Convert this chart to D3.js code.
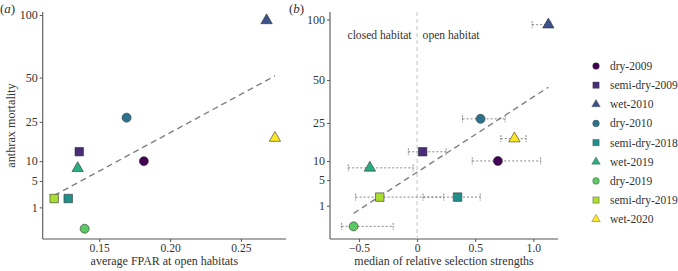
<!DOCTYPE html>
<html>
<head>
<meta charset="utf-8">
<script src="https://cdn.jsdelivr.net/npm/d3@7"></script>
<style>
  html, body { margin: 0; padding: 0; background: #fff; }
  svg { display: block; }
  text { font-family: "Liberation Serif", "DejaVu Serif", serif; fill: #333; }
</style>
</head>
<body>
<svg id="chart" width="678" height="271"></svg>
<script>
// ---- data ----
const years = ["dry-2009","semi-dry-2009","wet-2010","dry-2010","semi-dry-2018","wet-2019","dry-2019","semi-dry-2019","wet-2020"];
const shapes = ["circle","square","triangle","circle","square","triangle","circle","square","triangle"];
const colors = ["#440154","#472D7B","#3B528B","#2C728E","#21908C","#27AD81","#5DC863","#AADC32","#FDE725"];
const mortality = [10, 13, 95, 27, 2, 8, 0, 2, 18];
const fpar = [0.1815, 0.1359, 0.2681, 0.1693, 0.1281, 0.1348, 0.1397, 0.1182, 0.274];
const selMedian = [0.695, 0.048, 1.129, 0.546, 0.348, -0.406, -0.546, -0.321, 0.837];
const selLow = [0.474, -0.075, 0.99, 0.391, 0.051, -0.592, -0.649, -0.529, 0.72];
const selHigh = [1.063, 0.249, 1.15, 0.757, 0.543, -0.034, -0.206, 0.229, 0.937];
const yTicks = [1, 5, 10, 25, 50, 100];
const xTicksA = [0.15, 0.20, 0.25];
const xTicksB = [-0.5, 0, 0.5, 1.0];
const fitA = [{x: 0.1182, y: 2.43}, {x: 0.274, y: 51.1}];
const fitB = [{x: -0.546, y: 0.40}, {x: 1.129, y: 45.2}];

const svg = d3.select("#chart");
const axisColor = "#555";

const symType = {circle: d3.symbolCircle, square: d3.symbolSquare, triangle: d3.symbolTriangle};
const symSize = {circle: 64, square: 72, triangle: 56};

function drawAxes(g, x, y, xTicks, xFmt, pTop, pBottom, left, right) {
  const ya = g.append("g").attr("transform", `translate(${left},0)`)
    .call(d3.axisLeft(y).tickValues(yTicks).tickSize(3).tickPadding(2).tickFormat(d3.format("d")));
  const xa = g.append("g").attr("transform", `translate(0,${pBottom})`)
    .call(d3.axisBottom(x).tickValues(xTicks).tickSize(3).tickPadding(1.5).tickFormat(xFmt));
  ya.selectAll("text").attr("font-size", 12);
  xa.selectAll("text").attr("font-size", 11.6);
  [ya, xa].forEach(a => {
    a.select(".domain").remove();
    a.selectAll("line").attr("stroke", axisColor);
    a.selectAll("text").attr("fill", "#333")
      .style("font-family", '"Liberation Serif", serif');
  });
  g.append("line").attr("x1", left).attr("x2", left).attr("y1", pTop).attr("y2", pBottom)
    .attr("stroke", axisColor).attr("stroke-width", 1.1);
  g.append("line").attr("x1", left).attr("x2", right).attr("y1", pBottom).attr("y2", pBottom)
    .attr("stroke", axisColor).attr("stroke-width", 1.1);
}

function drawPoints(g, xs, x, y) {
  g.selectAll("path.pt").data(years).join("path")
    .attr("class", "pt")
    .attr("d", (d, i) => d3.symbol(symType[shapes[i]], symSize[shapes[i]])())
    .attr("transform", (d, i) => `translate(${x(xs[i])},${y(mortality[i])})`)
    .attr("fill", (d, i) => colors[i])
    .attr("stroke", "#333").attr("stroke-width", 0.6);
}

const plotTop = 12, plotBottom = 239;

// ---- panel (a) ----
{
  const left = 42.7, right = 286;
  const x = d3.scaleLinear().domain([0.1101, 0.2818]).range([left, right]);
  const y = d3.scalePow().exponent(0.5).domain([-(0.48 * 0.48), 10.14 * 10.14]).range([plotBottom, plotTop]);
  const g = svg.append("g");
  drawAxes(g, x, y, xTicksA, d3.format(".2f"), plotTop, plotBottom, left, right);
  g.append("path").datum(fitA)
    .attr("d", d3.line().x(d => x(d.x)).y(d => y(d.y)))
    .attr("fill", "none").attr("stroke", "#808080").attr("stroke-width", 1.4)
    .attr("stroke-dasharray", "6,4");
  drawPoints(g, fpar, x, y);
  g.append("text").attr("x", (left + right) / 2).attr("y", 265).attr("text-anchor", "middle")
    .attr("font-size", 12).text("average FPAR at open habitats");
  g.append("text").attr("transform", `translate(15,${(plotTop + plotBottom) / 2}) rotate(-90)`)
    .attr("text-anchor", "middle").attr("font-size", 12.2).text("anthrax mortality");
  const lab = g.append("text").attr("x", 0).attr("y", 13).attr("font-size", 13);
  lab.append("tspan").text("(");
  lab.append("tspan").attr("font-style", "italic").text("a");
  lab.append("tspan").text(")");
}

// ---- panel (b) ----
{
  const left = 330, right = 558;
  const x = d3.scaleLinear().domain([-0.749, 1.212]).range([left, right]);
  const y = d3.scalePow().exponent(0.5).domain([-(0.61 * 0.61), 10.36 * 10.36]).range([plotBottom, plotTop]);
  const g = svg.append("g");
  const fmt = d => d === 0 ? "0" : (d < 0 ? "\u2212" + d3.format(".1f")(-d) : d3.format(".1f")(d));
  drawAxes(g, x, y, xTicksB, fmt, plotTop, plotBottom, left, right);
  g.append("line").attr("x1", x(0)).attr("x2", x(0)).attr("y1", plotTop).attr("y2", plotBottom)
    .attr("stroke", "#c8c8c8").attr("stroke-width", 1.1).attr("stroke-dasharray", "4,3");
  g.append("text").attr("x", x(0) - 5.5).attr("y", 39).attr("text-anchor", "end")
    .attr("font-size", 11.6).text("closed habitat");
  g.append("text").attr("x", x(0) + 5.5).attr("y", 39).attr("text-anchor", "start")
    .attr("font-size", 11.6).text("open habitat");
  const eb = g.append("g").attr("stroke", "#7a7a7a").attr("stroke-width", 0.9).attr("fill", "none");
  years.forEach((d, i) => {
    const yy = y(mortality[i]);
    eb.append("line").attr("x1", x(selLow[i])).attr("x2", x(selHigh[i])).attr("y1", yy).attr("y2", yy)
      .attr("stroke-dasharray", "2,2");
    [selLow[i], selHigh[i]].forEach(v => {
      eb.append("line").attr("x1", x(v)).attr("x2", x(v)).attr("y1", yy - 3.5).attr("y2", yy + 3.5)
        .attr("stroke-dasharray", "2,1");
    });
  });
  g.append("path").datum(fitB)
    .attr("d", d3.line().x(d => x(d.x)).y(d => y(d.y)))
    .attr("fill", "none").attr("stroke", "#808080").attr("stroke-width", 1.4)
    .attr("stroke-dasharray", "6,4");
  drawPoints(g, selMedian, x, y);
  g.append("text").attr("x", (left + right) / 2).attr("y", 265).attr("text-anchor", "middle")
    .attr("font-size", 12).text("median of relative selection strengths");
  const lab = g.append("text").attr("x", 289).attr("y", 13).attr("font-size", 13);
  lab.append("tspan").text("(");
  lab.append("tspan").attr("font-style", "italic").text("b");
  lab.append("tspan").text(")");
}

// ---- legend ----
{
  const lg = svg.append("g");
  const rows = lg.selectAll("g").data(years).join("g")
    .attr("transform", (d, i) => `translate(596,${66 + i * 19.15})`);
  rows.append("path")
    .attr("d", (d, i) => d3.symbol(symType[shapes[i]], symSize[shapes[i]] * 0.55)())
    .attr("fill", (d, i) => colors[i]).attr("stroke", "#444").attr("stroke-width", 0.4);
  rows.append("text").attr("x", 14).attr("y", 4).attr("font-size", 11.5).text(d => d);
}
</script>
</body>
</html>
